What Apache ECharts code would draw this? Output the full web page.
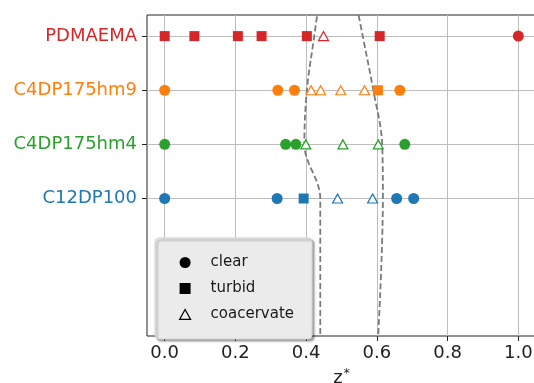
<!DOCTYPE html>
<html><head><meta charset="utf-8">
<script src="https://cdn.jsdelivr.net/npm/echarts@6/dist/echarts.min.js"></script>
<style>html,body{margin:0;padding:0;background:#fff}#c{width:534px;height:383px}</style>
</head><body><div id="c"></div>
<script>
// Categories (y positions 0..3) and their colours
const categories = ['C12DP100', 'C4DP175hm4', 'C4DP175hm9', 'PDMAEMA'];
const catColors = ['#1f77b4', '#2ca02c', '#ff7f0e', '#d62728'];
const phases = ['clear', 'turbid', 'coacervate'];
const xTicks = [0, 0.2, 0.4, 0.6, 0.8, 1.0];

// z* values per polymer and phase
const c12_clear = [0.0, 0.318, 0.656, 0.704];
const c12_turbid = [0.393];
const c12_coac = [0.489, 0.588];
const hm4_clear = [0.0, 0.342, 0.371, 0.679];
const hm4_turbid = [];
const hm4_coac = [0.399, 0.504, 0.604];
const hm9_clear = [0.0, 0.320, 0.367, 0.665];
const hm9_turbid = [0.603];
const hm9_coac = [0.414, 0.441, 0.498, 0.565];
const pdm_clear = [1.0];
const pdm_turbid = [0.0, 0.084, 0.207, 0.274, 0.402, 0.608];
const pdm_coac = [0.449];

// phase boundary (dashed) lines
const boundY = [-3, 0, 1, 2, 3, 4];
const lowerX = [0.440, 0.440, 0.395, 0.402, 0.423, 0.444];
const upperX = [0.600, 0.617, 0.615, 0.590, 0.560, 0.530];

const table = [
  [c12_clear, c12_turbid, c12_coac],
  [hm4_clear, hm4_turbid, hm4_coac],
  [hm9_clear, hm9_turbid, hm9_coac],
  [pdm_clear, pdm_turbid, pdm_coac]
];

const series = [];
series.push({type:'line', name:'lower', data: boundY.map((y,i)=>[lowerX[i], y]), showSymbol:false, symbol:'none', smooth:0.35,
  lineStyle:{color:'#7a7a7a', width:1.8, type:[6,3]}, z:1, silent:true});
series.push({type:'line', name:'upper', data: boundY.map((y,i)=>[upperX[i], y]), showSymbol:false, symbol:'none', smooth:0.35,
  lineStyle:{color:'#7a7a7a', width:1.8, type:[6,3]}, z:1, silent:true});

table.forEach((row, ci) => {
  const col = catColors[ci];
  row.forEach((vals, pi) => {
    const s = {type:'scatter', name: categories[ci] + '-' + phases[pi], data: vals.map(v => [v, ci]), z:3};
    if (pi === 0) { s.symbol = 'circle'; s.symbolSize = 11; s.itemStyle = {color: col, opacity: 1}; }
    else if (pi === 1) { s.symbol = 'rect'; s.symbolSize = 10; s.itemStyle = {color: col, opacity: 1}; }
    else { s.symbol = 'triangle'; s.symbolSize = [10, 9]; s.itemStyle = {color: '#fff', borderColor: col, borderWidth: 1.2, opacity: 1}; }
    series.push(s);
  });
});
// legend dummy series
series.push({type:'scatter', name:'clear', data:[], symbol:'circle', itemStyle:{color:'#000', opacity:1}});
series.push({type:'scatter', name:'turbid', data:[], symbol:'rect', itemStyle:{color:'#000', opacity:1}});
series.push({type:'scatter', name:'coacervate', data:[], symbol:'triangle', itemStyle:{color:'transparent', borderColor:'#000', borderWidth:1.2, opacity:1}});

const rich = {};
categories.forEach((c, i) => { rich['c' + i] = {color: catColors[i], fontSize: 18, fontFamily: 'DejaVu Sans'}; });

const chart = echarts.init(document.getElementById('c'), null, {renderer:'canvas'});
chart.setOption({
  animation: false,
  backgroundColor: '#fff',
  grid: {left: 147, top: 15, width: 389, height: 321, containLabel: false, outerBoundsMode: 'none',
         show: true, borderColor: '#222', borderWidth: 1, backgroundColor: 'transparent'},
  legend: {
    data: [
      {name:'clear', icon:'circle'},
      {name:'turbid', icon:'rect'},
      {name:'coacervate', icon:'path://M5,0 L10,9 L0,9 Z', itemStyle:{color:'transparent', borderColor:'#000', borderWidth:1.2}}
    ],
    orient: 'vertical', left: 155, top: 238, width: 157,
    padding: [17, 18, 17, 24], itemWidth: 11, itemHeight: 11, itemGap: 11,
    backgroundColor: '#ebebeb', borderColor: '#d0d0d0', borderWidth: 1, borderRadius: 4,
    shadowColor: 'rgba(0,0,0,0.35)', shadowOffsetX: 2, shadowOffsetY: 2, shadowBlur: 2,
    textStyle: {fontSize: 15, color: '#1a1a1a', fontFamily: 'DejaVu Sans', padding: [0, 0, 0, 15]},
    selectedMode: false
  },
  xAxis: {
    type: 'value', min: -0.05, max: 1.05,
    name: 'z{s|*}', nameLocation: 'middle', nameGap: 32,
    nameTextStyle: {fontSize: 18, color: '#222', fontFamily: 'DejaVu Sans',
      rich: {s: {fontSize: 12, color: '#222', fontFamily: 'DejaVu Sans', padding: [0, 0, 9, 1]}}},
    axisLine: {show: false, onZero: false},
    axisTick: {show: true, inside: false, length: 5, customValues: xTicks, lineStyle: {color: '#222', width: 1}},
    axisLabel: {customValues: xTicks, fontSize: 18, color: '#222', fontFamily: 'DejaVu Sans', margin: 8,
      formatter: v => v.toFixed(1)},
    splitLine: {show: true, lineStyle: {color: '#bdbdbd', width: 1}}
  },
  yAxis: {
    type: 'value', min: -2.54, max: 3.39,
    axisLine: {show: false, onZero: false},
    axisTick: {show: true, inside: false, length: 5, customValues: [0, 1, 2, 3], lineStyle: {color: '#222', width: 1}},
    axisLabel: {customValues: [0, 1, 2, 3], margin: 10, rich: rich,
      formatter: v => { const i = Math.round(v); return '{c' + i + '|' + categories[i] + '}'; }},
    splitLine: {show: true, lineStyle: {color: '#bdbdbd', width: 1}}
  },
  series: series
});
</script></body></html>
